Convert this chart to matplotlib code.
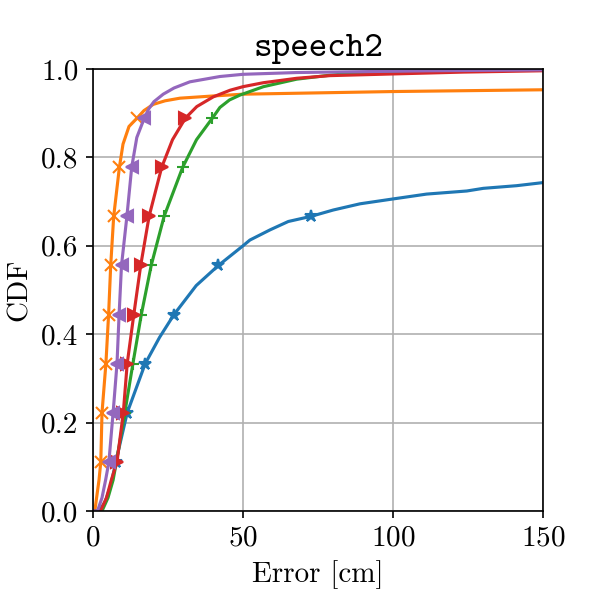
import numpy as np
import matplotlib
matplotlib.use("Agg")
import matplotlib.pyplot as plt

plt.rcParams['font.family'] = 'serif'
plt.rcParams['font.serif'] = ['cmr10']
plt.rcParams['mathtext.fontset'] = 'cm'
plt.rcParams['axes.formatter.use_mathtext'] = True
plt.rcParams['font.size'] = 14

title = "speech2"
xlabel = "Error [cm]"
ylabel = "CDF"
marker_levels = [1/9, 2/9, 3/9, 4/9, 5/9, 6/9, 7/9, 8/9]

# Series (error [cm], CDF)
blue_x = [0, 2, 4, 6, 7.6, 11.4, 17.4, 22.2, 27, 34.4, 41.8, 50, 52.3, 59, 65.1, 72.7, 80.1, 89, 100, 111.2, 124.6, 130.1, 141.2, 150]
blue_y = [0, 0, 0.02, 0.06, 1/9, 2/9, 3/9, 0.393, 4/9, 0.51, 5/9, 0.6, 0.613, 0.636, 0.655, 6/9, 0.681, 0.695, 0.706, 0.717, 0.724, 0.730, 0.736, 0.743]

orange_x = [0, 0.6, 1.2, 2.0, 2.6, 3.0, 4.3, 5.2, 5.9, 6.9, 8.8, 10.0, 12.0, 14.7, 17.0, 20.1, 24.0, 29, 40.1, 50, 100, 150]
orange_y = [0, 0, 0.03, 0.07, 1/9, 2/9, 3/9, 4/9, 5/9, 6/9, 7/9, 0.83, 0.87, 8/9, 0.906, 0.920, 0.928, 0.934, 0.939, 0.943, 0.949, 0.953]

green_x = [0, 3, 5, 6.7, 7.8, 10.6, 13.3, 16.1, 19.4, 23.7, 29.9, 34.5, 39.8, 42.3, 45.5, 49, 56.8, 67.9, 79, 90, 112, 150]
green_y = [0, 0, 0.03, 0.07, 1/9, 2/9, 3/9, 4/9, 5/9, 6/9, 7/9, 0.84, 8/9, 0.913, 0.930, 0.941, 0.960, 0.977, 0.986, 0.992, 0.995, 0.998]

red_x = [0, 2.5, 4.5, 6.1, 8.0, 10.1, 11.4, 13.6, 15.9, 18.7, 22.9, 26.5, 30.8, 34.6, 40.1, 45.7, 50, 56.8, 67.9, 79, 101, 123.4, 150]
red_y = [0, 0, 0.03, 0.07, 1/9, 2/9, 3/9, 4/9, 5/9, 6/9, 7/9, 0.84, 8/9, 0.915, 0.937, 0.952, 0.960, 0.969, 0.979, 0.985, 0.989, 0.993, 0.996]

purple_x = [0, 1.5, 3, 4.2, 5.3, 6.7, 8.0, 8.7, 9.5, 11.3, 12.9, 14.6, 17.1, 18.6, 20.3, 23.4, 27.0, 32.3, 42.3, 50, 67.9, 112, 150]
purple_y = [0, 0, 0.03, 0.07, 1/9, 2/9, 3/9, 4/9, 5/9, 6/9, 7/9, 0.845, 8/9, 0.910, 0.926, 0.943, 0.957, 0.971, 0.983, 0.988, 0.992, 0.996, 0.998]

series = [
    (blue_x, blue_y, 'tab:blue', '*'),
    (orange_x, orange_y, 'tab:orange', 'x'),
    (green_x, green_y, 'tab:green', '+'),
    (red_x, red_y, 'tab:red', '>'),
    (purple_x, purple_y, 'tab:purple', '<'),
]

fig = plt.figure(figsize=(598/150, 598/150), dpi=150)
ax = fig.add_axes([93/598, 1 - 511/598, 450/598, 442/598])

for xs, ys, color, mk in series:
    ys_arr = np.array(ys)
    idx = [i for i, v in enumerate(ys_arr) if any(np.isclose(v, lv) for lv in marker_levels)]
    ax.plot(xs, ys, color=color, marker=mk, markevery=idx, lw=1.5, ms=6)

ax.set_xlim(0, 150)
ax.set_ylim(0, 1)
ax.set_xticks([0, 50, 100, 150])
ax.set_yticks([0, 0.2, 0.4, 0.6, 0.8, 1.0])
ax.set_yticklabels(['0.0', '0.2', '0.4', '0.6', '0.8', '1.0'])
ax.grid(True)
ax.set_xlabel(xlabel)
ax.set_ylabel(ylabel)
ax.set_title(title, fontfamily='cmtt10', fontsize=17)

fig.savefig("out.png", dpi=150)
